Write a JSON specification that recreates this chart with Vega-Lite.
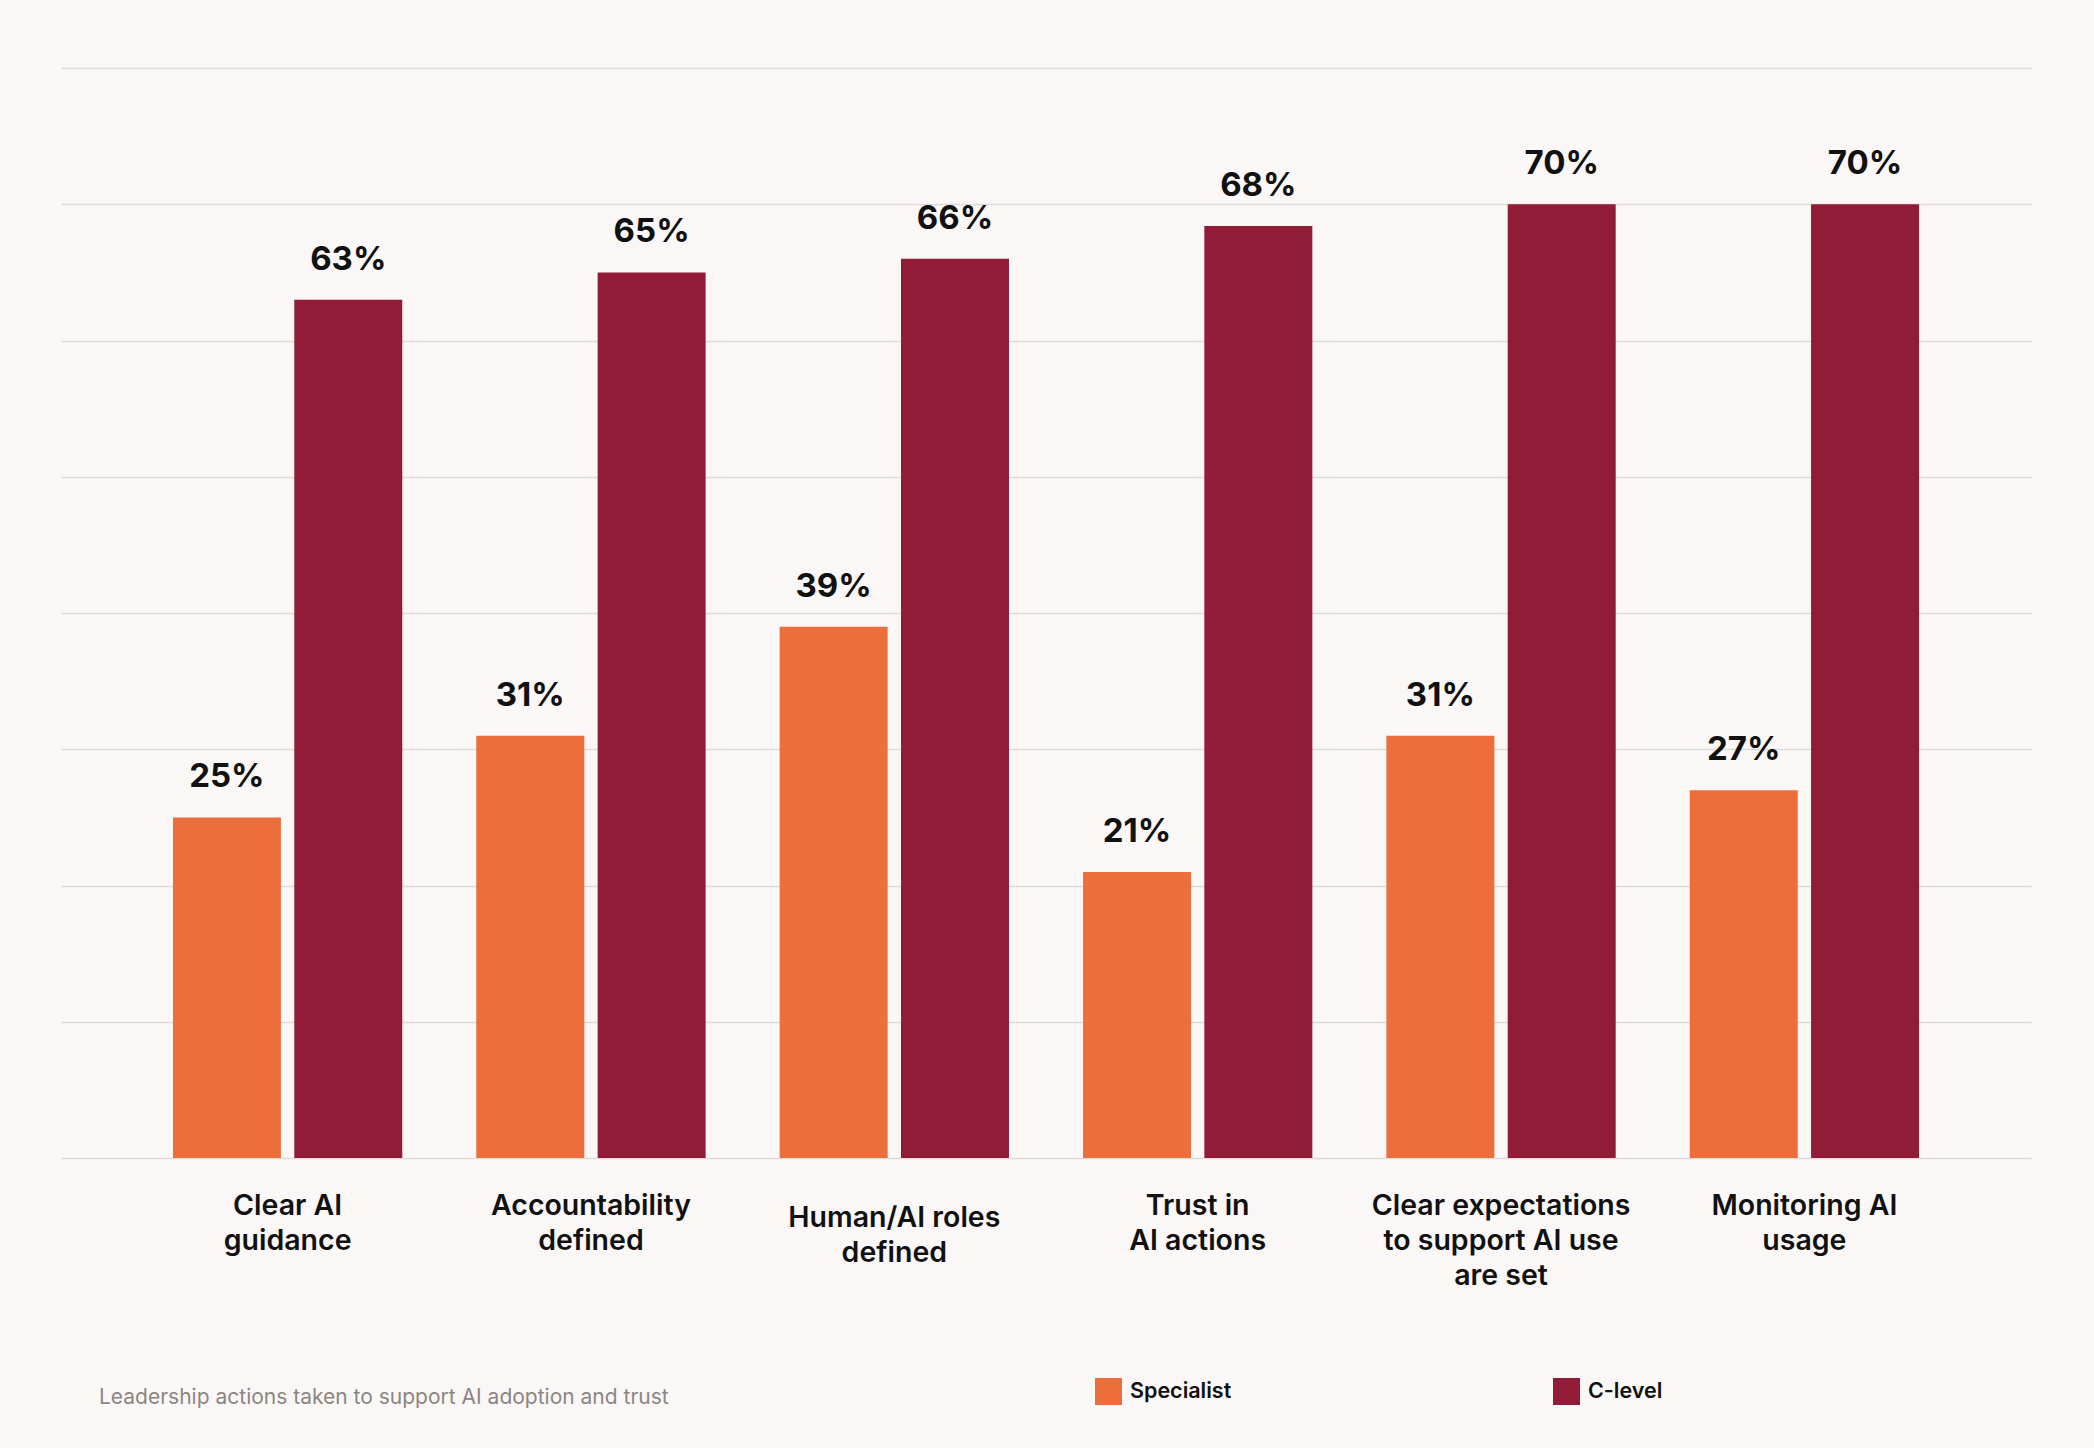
{
  "$schema": "https://vega.github.io/schema/vega-lite/v6.json",
  "description": "Leadership actions taken to support AI adoption and trust, Specialist vs C-level",
  "width": 1970,
  "height": 1090,
  "autosize": {"type": "none"},
  "padding": {"left": 61, "top": 68, "right": 63, "bottom": 290},
  "background": "#faf7f6",
  "config": {"view": {"stroke": null}, "font": "Inter"},
  "title": {
    "text": "Leadership actions taken to support AI adoption and trust",
    "orient": "bottom",
    "anchor": "start",
    "frame": "group",
    "dx": 38,
    "offset": -18,
    "fontSize": 21,
    "fontWeight": "normal",
    "color": "#8c8682"
  },
  "data": {
    "values": [
      {"category": "Clear AI|guidance", "group": "Specialist", "value": 0.25},
      {"category": "Clear AI|guidance", "group": "C-level", "value": 0.63},
      {"category": "Accountability|defined", "group": "Specialist", "value": 0.31},
      {"category": "Accountability|defined", "group": "C-level", "value": 0.65},
      {"category": "Human/AI roles|defined", "group": "Specialist", "value": 0.39},
      {"category": "Human/AI roles|defined", "group": "C-level", "value": 0.66},
      {"category": "Trust in|AI actions", "group": "Specialist", "value": 0.21},
      {"category": "Trust in|AI actions", "group": "C-level", "value": 0.684},
      {"category": "Clear expectations|to support AI use|are set", "group": "Specialist", "value": 0.31},
      {"category": "Clear expectations|to support AI use|are set", "group": "C-level", "value": 0.70},
      {"category": "Monitoring AI|usage", "group": "Specialist", "value": 0.27},
      {"category": "Monitoring AI|usage", "group": "C-level", "value": 0.70}
    ]
  },
  "encoding": {
    "x": {
      "field": "category",
      "type": "nominal",
      "sort": null,
      "scale": {"paddingInner": 0.244, "paddingOuter": 0.369},
      "axis": {
        "title": null,
        "domain": false,
        "ticks": false,
        "labelAngle": 0,
        "labelLimit": 0,
        "labelExpr": "split(datum.label, '|')",
        "labelFontSize": 28.5,
        "labelFontWeight": 600,
        "labelColor": "#111111",
        "labelLineHeight": 35,
        "labelBaseline": "top",
        "labelPadding": {"condition": {"test": "datum.value == 'Human/AI roles|defined'", "value": 45}, "value": 33}
      }
    },
    "xOffset": {
      "field": "group",
      "sort": ["Specialist", "C-level"],
      "scale": {"paddingInner": 0.11}
    },
    "y": {
      "field": "value",
      "type": "quantitative",
      "scale": {"domain": [0, 0.8]},
      "axis": {
        "title": null,
        "labels": false,
        "ticks": false,
        "domain": false,
        "grid": true,
        "values": [0, 0.1, 0.2, 0.3, 0.4, 0.5, 0.6, 0.7, 0.8],
        "gridColor": "#dedad8",
        "gridWidth": 1.3
      }
    }
  },
  "layer": [
    {
      "mark": {"type": "bar"},
      "encoding": {
        "color": {
          "field": "group",
          "type": "nominal",
          "scale": {"domain": ["Specialist", "C-level"], "range": ["#ec6e3d", "#921c37"]},
          "legend": {
            "orient": "none",
            "legendX": 1034,
            "legendY": 1310,
            "direction": "horizontal",
            "title": null,
            "symbolType": "square",
            "symbolSize": 729,
            "symbolStrokeWidth": 0,
            "labelFontSize": 21.5,
            "labelFontWeight": 600,
            "labelColor": "#111111",
            "labelOffset": 8,
            "columnPadding": 321
          }
        }
      }
    },
    {
      "mark": {
        "type": "text",
        "dy": -30,
        "baseline": "alphabetic",
        "fontSize": 33,
        "fontWeight": "bold",
        "color": "#111111"
      },
      "encoding": {
        "text": {"field": "value", "type": "quantitative", "format": ".0%"}
      }
    }
  ]
}
